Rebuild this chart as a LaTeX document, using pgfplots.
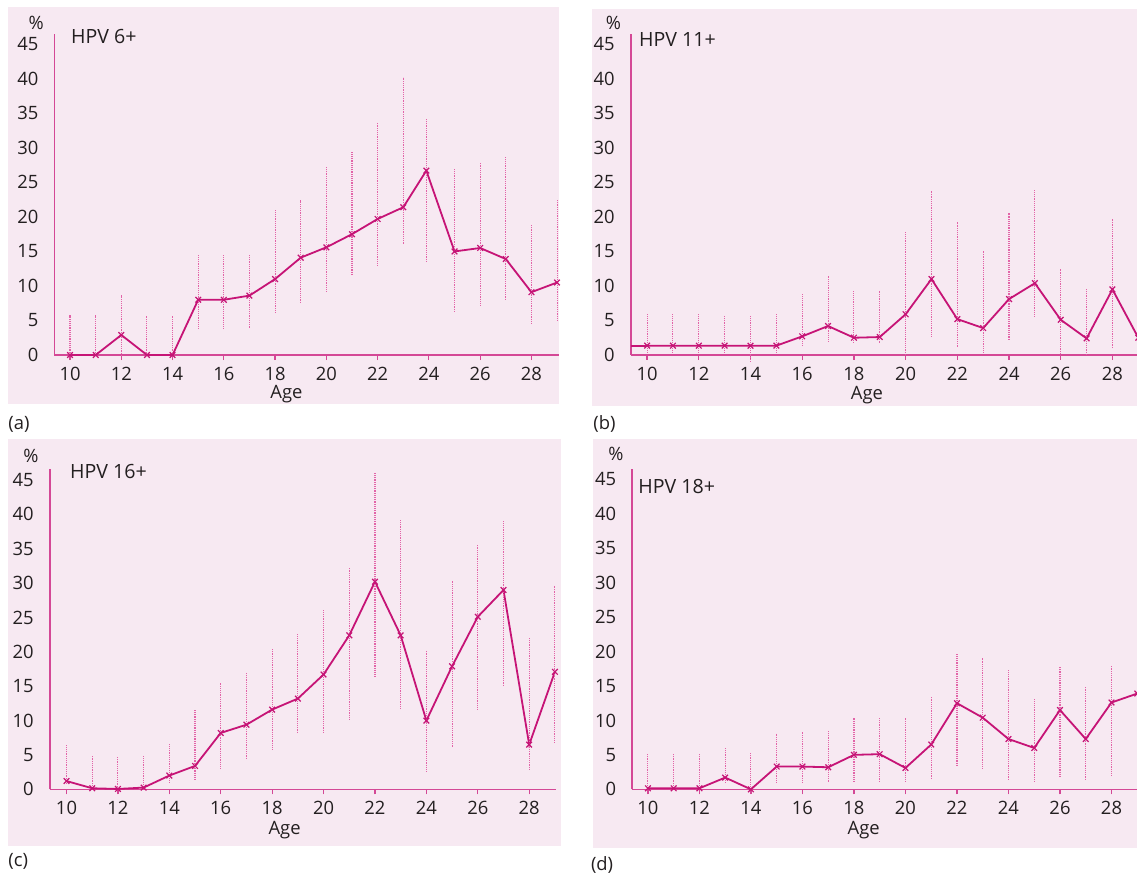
\documentclass[border=0pt]{standalone}
\usepackage{fontspec}
\setmainfont{Open Sans}
\usepackage{pgfplots}
\pgfplotsset{compat=1.18}
\usepackage{pgfplotstable}

\definecolor{bgpink}{RGB}{247,233,242}
\definecolor{hpvline}{RGB}{198,20,118}
\definecolor{hpvaxis}{RGB}{212,72,150}
\definecolor{hpverr}{RGB}{226,100,168}
\definecolor{txt}{RGB}{35,31,32}

% age, value, lower and upper end of the interval (%)
\pgfplotstableread{
x y lo hi
10 0 0 5.8
11 0 0 5.8
12 2.9 0 8.7
13 0 0 5.6
14 0 0 5.6
15 8.0 3.8 14.5
16 8.0 3.8 14.5
17 8.6 3.9 14.6
18 11.0 6.2 21.1
19 14.1 7.7 22.5
20 15.6 9.2 27.2
21 17.5 11.5 29.6
22 19.7 12.9 33.6
23 21.4 16.0 40.2
23.9 26.7 13.4 34.2
25 15.0 6.2 26.9
26 15.5 7.2 27.9
27 13.9 8.1 28.8
28 9.1 4.5 18.9
29 10.5 4.9 22.4
}\hpvsix

\pgfplotstableread{
x y lo hi
10 1.35 0.2 5.9
11 1.35 0.2 5.9
12 1.35 0.2 6.0
13 1.35 0.1 5.8
14 1.35 -0.9 5.7
15 1.35 0.2 6.0
16 2.7 1.4 8.8
17 4.2 1.9 11.4
18 2.5 1.8 9.3
19 2.6 1.8 9.3
20 5.9 0 17.9
21 11.0 2.7 23.8
22 5.2 1.2 19.3
23 3.9 0.3 15.1
24 8.1 2.2 20.6
25 10.4 5.6 24.0
26 5.1 0 12.5
27 2.4 0 9.5
28 9.5 1.2 19.7
29 2.5 0.5 9.9
}\hpveleven

\pgfplotstableread{
x y lo hi
10 1.2 0.6 6.4
11 0.15 0 4.9
12 0.05 0 4.8
13 0.25 0 4.8
14 2.0 0.9 6.7
15 3.4 1.2 11.5
16 8.2 2.8 15.4
17 9.4 4.3 16.9
18 11.6 5.8 20.4
19 13.2 8.1 22.8
20 16.7 8.1 26.1
21 22.4 10.1 32.2
22 30.2 16.4 46.1
23 22.4 11.8 39.3
24 10.0 2.5 20.1
25 17.9 6.2 30.3
26 25.1 11.4 35.5
27 29.0 15.1 39.2
28 6.5 2.7 22.1
29 17.1 6.6 29.6
}\hpvsixteen

\pgfplotstableread{
x y lo hi
10 0.15 0 5.2
11 0.15 0 5.2
12 0.15 0 5.2
13 1.7 0.9 6.0
14 0 0 5.2
15 3.3 0.9 8.1
16 3.3 1.0 8.3
17 3.2 1.1 8.4
18 5.0 1.0 10.3
19 5.1 1.1 10.4
20 3.1 1.1 10.4
21 6.5 1.4 13.4
22 12.5 3.5 19.6
23 10.4 3.0 19.1
24 7.3 1.4 17.4
25 6.0 0.9 13.1
26 11.5 1.6 17.8
27 7.3 1.3 14.9
28 12.6 1.8 18.0
29 13.9 3.8 19.2
}\hpveighteen

\newcommand\lbl{\fontsize{9.2}{11}\selectfont}

\pgfplotsset{
  hpvpanel/.style={
    scale only axis, anchor=south west, clip=false,
    axis lines=left,
    axis line style={-, draw=hpvaxis, line width=0.8pt},
    ymin=0,
    xtick={10,12,...,28}, ytick={0,5,...,45},
    /pgf/number format/assume math mode=true,
    tick label style={font=\lbl, text=txt},
    xtick style={draw=hpvaxis, line width=0.6pt},
    ytick style={draw=none},
    tick align=outside, major tick length=2.5pt,
    yticklabel style={xshift=-2pt},
  },
  hpvdata/.style={
    hpvline, line width=0.9pt, mark=x, mark size=2pt,
    mark options={solid, line width=0.6pt},
    error bars/.cd, y dir=both, y explicit, error mark=none,
    error bar style={hpverr, line width=0.55pt, dash pattern=on 0.6pt off 0.5pt},
  },
}

\newcommand\plotseries[1]{%
  \addplot+[hpvdata] table[x=x, y=y,
    y error plus expr=\thisrow{hi}-\thisrow{y},
    y error minus expr=\thisrow{y}-\thisrow{lo}] {#1};}

\begin{document}
\begin{tikzpicture}[x=0.5pt, y=0.5pt,
  lab/.style={inner sep=0pt, text=txt, font=\lbl, text depth=0pt}]
\path[use as bounding box] (0,0) rectangle (1137,875);

\fill[bgpink] (8,471) rectangle (559,868);
\fill[bgpink] (591.7,469.3) rectangle (1137,866);
\fill[bgpink] (8,29) rectangle (561,436);
\fill[bgpink] (592.8,27) rectangle (1137,436);

% (a)
\begin{axis}[hpvpanel, at={(27.2pt,260pt)}, width=252.1pt, height=160.35pt,
  xmin=9.39, xmax=29.06, ymax=46.45]
  \plotseries{\hpvsix}
\end{axis}
\node[lab] at (36.3,852) {\%};
\node[lab, anchor=west, font=\fontsize{9.8}{11}\selectfont] at (70.7,839) {HPV 6+};
\node[lab] at (286.5,483.3) {Age};
\node[lab, anchor=west] at (8,452) {(a)};

% (b)
\begin{axis}[hpvpanel, at={(315.4pt,260pt)}, width=253.1pt, height=160.35pt,
  xmin=9.37, xmax=28.95, ymax=46.45]
  \addplot[hpvline, line width=0.9pt] coordinates {(9.37,1.35) (10,1.35)};
  \plotseries{\hpveleven}
\end{axis}
\node[lab] at (613.4,852) {\%};
\node[lab, anchor=west, font=\fontsize{9.8}{11}\selectfont] at (638.7,835) {HPV 11+};
\node[lab] at (867,482) {Age};
\node[lab, anchor=west] at (593,452) {(b)};

% (c)
\begin{axis}[hpvpanel, at={(24.9pt,42.85pt)}, width=253.2pt, height=160pt,
  xmin=9.35, xmax=29.05, ymax=46.56]
  \plotseries{\hpvsixteen}
\end{axis}
\node[lab] at (30.9,419) {\%};
\node[lab, anchor=west, font=\fontsize{9.8}{11}\selectfont] at (69.8,404) {HPV 16+};
\node[lab] at (284.6,47.3) {Age};
\node[lab, anchor=west] at (8,15) {(c)};

% (d)
\begin{axis}[hpvpanel, at={(316.1pt,42.85pt)}, width=252.4pt, height=160.15pt,
  xmin=9.39, xmax=28.99, ymax=46.5]
  \plotseries{\hpveighteen}
\end{axis}
\node[lab] at (616,421) {\%};
\node[lab, anchor=west, font=\fontsize{9.8}{11}\selectfont] at (638,389) {HPV 18+};
\node[lab] at (863.7,47.3) {Age};
\node[lab, anchor=west] at (590.6,11) {(d)};
\end{tikzpicture}
\end{document}
